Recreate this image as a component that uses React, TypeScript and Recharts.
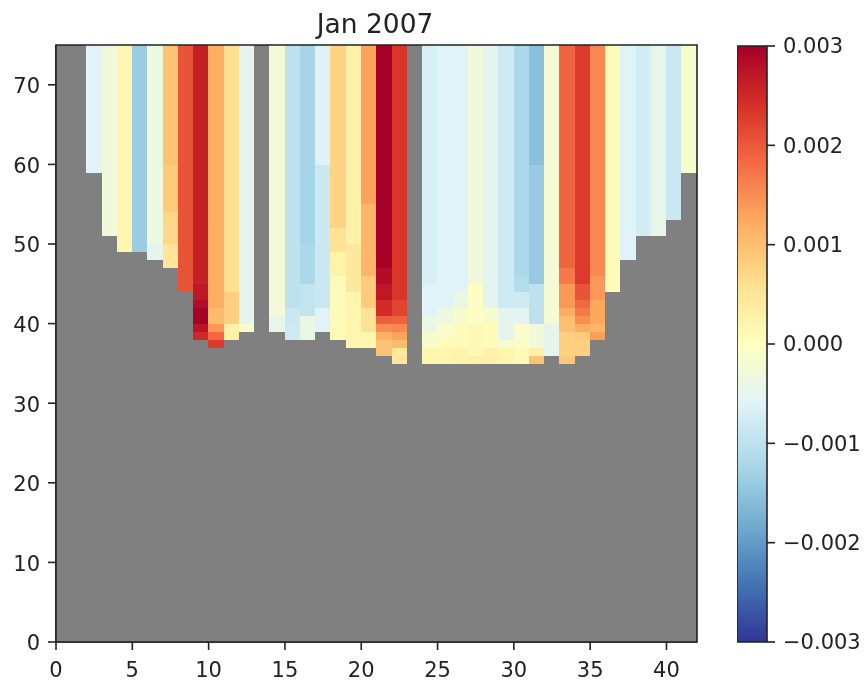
import React from "react";
import { ScatterChart, Scatter, XAxis, YAxis, ReferenceArea } from "recharts";

const title = "Jan 2007";
const xTicks = [0, 5, 10, 15, 20, 25, 30, 35, 40];
const yTicks = [0, 10, 20, 30, 40, 50, 60, 70];
const colorbarTicks = [-0.003, -0.002, -0.001, 0, 0.001, 0.002, 0.003];
const colorStops = ["#313695", "#4575b4", "#74add1", "#abd9e9", "#e0f3f8", "#ffffbf", "#fee090", "#fdae61", "#f46d43", "#d73027", "#a50026"];
const landColor = "#808080";
const rowCount = 75;

// One entry per column: runs read top-down as [row the run reaches down to, anomaly in units of 0.001].
// An empty column is land; everything under the last run is land.
const columnRuns: [number, number][][] = [
  [],
  [],
  [[59, -0.6]],
  [[51, -0.3]],
  [[49, 0.2]],
  [[49, -1.38]],
  [[50, -0.35], [48, -0.5]],
  [[60, 0.95], [54, 0.85], [50, 0.7], [47, 0.5]],
  [[44, 2.05]],
  [[45, 2.6], [43, 2.7], [42, 2.85], [40, 3], [39, 2.75], [38, 2.5]],
  [[42, 1.2], [40, 1.05], [39, 1.4], [38, 1.85], [37, 2.3]],
  [[44, 0.6], [40, 0.8], [38, 0.3]],
  [[40, -0.5], [39, -0.15]],
  [],
  [[41, -0.25], [39, -0.45]],
  [[42, -1.0], [40, -0.85], [38, -0.8]],
  [[50, -1.25], [45, -1.2], [41, -0.95], [38, -0.4]],
  [[60, -0.62], [42, -0.85], [39, -0.6]],
  [[52, 0.75], [49, 0.55], [46, 0.25], [40, 0.05], [38, 0.1]],
  [[50, 0.28], [44, 0.45], [37, 0.2]],
  [[55, 1.3], [46, 1.1], [42, 0.85], [39, 0.55], [37, 0.2]],
  [[47, 3], [45, 2.85], [43, 2.7], [41, 2.45], [40, 1.95], [39, 1.5], [38, 1.15], [36, 0.95]],
  [[43, 2.35], [41, 2.2], [40, 1.9], [39, 1.55], [38, 1.3], [37, 1.05], [35, 0.45]],
  [],
  [[45, -0.7], [41, -0.6], [39, -0.4], [37, -0.15], [35, 0.2]],
  [[42, -0.6], [40, -0.35], [38, -0.1], [37, 0.05], [35, 0.2]],
  [[44, -0.6], [42, -0.4], [40, -0.15], [37, 0.05], [35, 0.25]],
  [[45, -0.3], [40, -0.05], [36, 0.12], [35, 0.3]],
  [[42, -0.52], [40, -0.15], [37, 0.08], [35, 0.28]],
  [[42, -0.8], [38, -0.5], [37, -0.15], [35, 0.2]],
  [[46, -1.2], [44, -1.1], [42, -0.8], [40, -0.55], [37, -0.1], [35, 0.1]],
  [[60, -1.55], [45, -1.4], [40, -1.0], [37, -0.3], [36, 0.3], [35, 0.95]],
  [[40, -0.22], [36, -0.5]],
  [[47, 1.9], [45, 1.7], [42, 1.4], [41, 1.2], [39, 1.0], [36, 0.8], [35, 0.9]],
  [[45, 2.3], [43, 2.05], [42, 1.85], [41, 1.7], [40, 1.5], [39, 1.2], [38, 0.85], [36, 0.8]],
  [[46, 1.55], [43, 1.4], [40, 1.25], [39, 1.1], [38, 1.35]],
  [[44, 0.05]],
  [[48, -0.6]],
  [[51, -0.75]],
  [[51, -0.45]],
  [[53, -0.85]],
  [[59, -0.15]],
];

function hexToRgb(hex: string) {
  return [1, 3, 5].map((i) => parseInt(hex.slice(i, i + 2), 16));
}

function anomalyColor(v: number) {
  const t = ((v + 3) / 6) * (colorStops.length - 1);
  const i = Math.min(colorStops.length - 2, Math.max(0, Math.floor(t)));
  const a = hexToRgb(colorStops[i]);
  const b = hexToRgb(colorStops[i + 1]);
  const c = a.map((p, k) => Math.round(p + (b[k] - p) * (t - i)));
  return `rgb(${c[0]},${c[1]},${c[2]})`;
}

const cells = columnRuns.flatMap((runs, col) =>
  Array.from({ length: rowCount }, (_, row) => {
    const run = runs.find(([bottom]) => bottom <= row);
    return { x: col + 0.5, y: row + 0.5, color: run ? anomalyColor(run[1]) : landColor };
  })
);

const colorbarAnchors = colorbarTicks.map((y) => ({ x: 0.5, y }));
const frameAnchors = [{ x: 0, y: 0 }, { x: 42, y: 75 }];

const cellWidth = 15.76;
const cellHeight = 8.46;

function CellShape(props: any) {
  const { cx, cy, payload } = props;
  return (
    <rect
      x={cx - cellWidth / 2}
      y={cy - cellHeight / 2}
      width={cellWidth}
      height={cellHeight}
      fill={payload.color}
      shapeRendering="crispEdges"
    />
  );
}

function NoShape() {
  return <g />;
}

const font = "'DejaVu Sans', sans-serif";
const ink = "#222222";
const tickStyle = { fontFamily: font, fontSize: 21, fill: ink };
const lineStyle = { stroke: ink, strokeWidth: 1.6 };

function formatBar(v: number) {
  const s = Math.abs(v).toFixed(3);
  return v < 0 ? `\u2212${s}` : s;
}

export default function App() {
  return (
    <div style={{ position: "absolute", left: 0, top: 0, width: 867, height: 681, background: "#fff", filter: "blur(0.5px)" }}>
      <div style={{ position: "absolute", left: 0, top: 0 }}>
        <ScatterChart width={720} height={681} margin={{ top: 45, right: 23, bottom: 0, left: 0 }}>
          <XAxis
            type="number"
            dataKey="x"
            domain={[0, 42]}
            ticks={xTicks}
            interval={0}
            height={39}
            tickSize={8}
            tickMargin={9}
            tick={{ ...tickStyle, dy: 3 }}
            axisLine={lineStyle}
            tickLine={lineStyle}
          />
          <YAxis
            type="number"
            dataKey="y"
            domain={[0, 75]}
            ticks={yTicks}
            interval={0}
            width={56}
            tickSize={8}
            tickMargin={8}
            tick={{ ...tickStyle, dy: 1 }}
            axisLine={lineStyle}
            tickLine={lineStyle}
          />
          <Scatter data={cells} shape={CellShape} isAnimationActive={false} />
          <text x={375} y={33} textAnchor="middle" fontFamily={font} fontSize={26.5} fill={ink}>
            {title}
          </text>
        </ScatterChart>
      </div>
      <div style={{ position: "absolute", left: 0, top: 0 }}>
        <ScatterChart width={720} height={681} margin={{ top: 45, right: 23, bottom: 39, left: 56 }}>
          <XAxis type="number" dataKey="x" domain={[0, 42]} hide />
          <YAxis type="number" dataKey="y" domain={[0, 75]} hide />
          <Scatter data={frameAnchors} shape={NoShape} isAnimationActive={false} />
          <ReferenceArea x1={0} x2={42} y1={0} y2={75} fill="none" stroke={ink} strokeWidth={1.6} />
        </ScatterChart>
      </div>
      <div style={{ position: "absolute", left: 737, top: 0 }}>
        <ScatterChart width={130} height={681} margin={{ top: 46, right: 0, bottom: 39, left: 0 }}>
          <defs>
            <linearGradient id="rdylbu" x1="0" y1="1" x2="0" y2="0">
              {colorStops.map((c, i) => (
                <stop key={c} offset={i / (colorStops.length - 1)} stopColor={c} />
              ))}
            </linearGradient>
          </defs>
          <XAxis type="number" dataKey="x" domain={[0, 1]} hide />
          <YAxis
            type="number"
            dataKey="y"
            orientation="right"
            domain={[-0.003, 0.003]}
            ticks={colorbarTicks}
            interval={0}
            width={100}
            tickSize={8}
            tickMargin={8}
            tickFormatter={formatBar}
            tick={tickStyle}
            axisLine={false}
            tickLine={lineStyle}
          />
          <Scatter data={colorbarAnchors} shape={NoShape} isAnimationActive={false} />
          <ReferenceArea x1={0} x2={1} y1={-0.003} y2={0.003} fill="url(#rdylbu)" fillOpacity={1} stroke={ink} strokeWidth={1.6} />
        </ScatterChart>
      </div>
    </div>
  );
}
